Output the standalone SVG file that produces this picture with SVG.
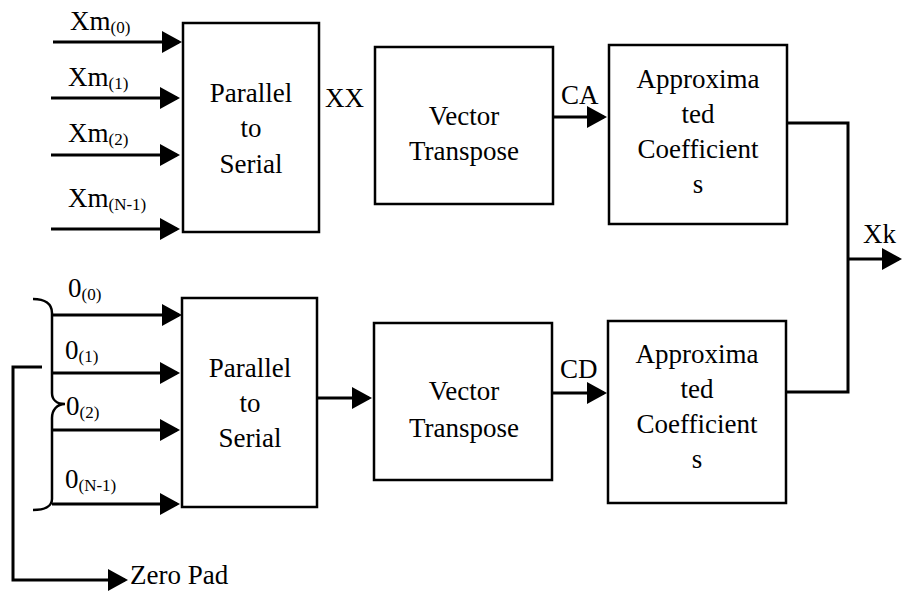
<svg xmlns="http://www.w3.org/2000/svg" width="902" height="591" viewBox="0 0 902 591">
<style>
text{font-family:'Liberation Serif',Tinos,'Times New Roman',Times,serif;font-size:27px;fill:#000}
.c{text-anchor:middle}
.s{font-size:17px}
.box{fill:#fff;stroke:#000;stroke-width:2.5}
.ln{fill:none;stroke:#000;stroke-width:3}
.br{fill:none;stroke:#000;stroke-width:2.5}
</style>
<defs>
<marker id="ah" viewBox="0 0 20 22" refX="17" refY="11" markerWidth="20" markerHeight="22" markerUnits="userSpaceOnUse" orient="auto">
<path d="M0,0 L20,11 L0,22 Z" fill="#000"/>
</marker>
</defs>
<rect width="902" height="591" fill="#fff"/>

<g id="connectors">
<path class="ln" d="M53,42 H179" marker-end="url(#ah)"/>
<path class="ln" d="M51,98 H177" marker-end="url(#ah)"/>
<path class="ln" d="M51,155 H177" marker-end="url(#ah)"/>
<path class="ln" d="M51,229 H177" marker-end="url(#ah)"/>
<path class="ln" d="M553,117 H604" marker-end="url(#ah)"/>
<path class="ln" d="M787,123 H848 V392 H786"/>
<path class="ln" d="M848,259 H899" marker-end="url(#ah)"/>
<path class="ln" d="M52,315 H179" marker-end="url(#ah)"/>
<path class="ln" d="M52,373 H177" marker-end="url(#ah)"/>
<path class="ln" d="M52,430 H177" marker-end="url(#ah)"/>
<path class="ln" d="M52,504 H177" marker-end="url(#ah)"/>
<path class="ln" d="M317,398 H369" marker-end="url(#ah)"/>
<path class="ln" d="M552,393 H604" marker-end="url(#ah)"/>
<path class="br" d="M33,299 C45,299 52,304 52,313 L52,393 C52,400 57,404 65,404 C57,404 52,410 52,418 L52,499 C52,506 45,510 33,510"/>
<path class="ln" d="M42,367 H13 V580 H125" marker-end="url(#ah)"/>
</g>

<g id="labels" font-family="Liberation Serif, serif">
<text x="70" y="30">Xm<tspan class="s" dy="3">(0)</tspan></text>
<text x="68" y="86">Xm<tspan class="s" dy="3">(1)</tspan></text>
<text x="68" y="142">Xm<tspan class="s" dy="3">(2)</tspan></text>
<text x="68" y="207">Xm<tspan class="s" dy="3">(N-1)</tspan></text>
<text x="325" y="107">XX</text>
<text x="561" y="104">CA</text>
<text x="863" y="243">Xk</text>
<text x="68" y="297">0<tspan class="s" dy="3">(0)</tspan></text>
<text x="65" y="359">0<tspan class="s" dy="3">(1)</tspan></text>
<text x="66" y="415">0<tspan class="s" dy="3">(2)</tspan></text>
<text x="65" y="488">0<tspan class="s" dy="3">(N-1)</tspan></text>
<text x="560" y="378">CD</text>
<text x="130" y="584">Zero Pad</text>
</g>

<g id="p2s-top">
<rect class="box" x="183" y="23" width="136" height="209"/>
<text class="c" x="251" y="102">Parallel</text>
<text class="c" x="251" y="137">to</text>
<text class="c" x="251" y="173">Serial</text>
</g>
<g id="vt-top">
<rect class="box" x="375" y="47" width="178" height="157"/>
<text class="c" x="464" y="125">Vector</text>
<text class="c" x="464" y="160">Transpose</text>
</g>
<g id="ac-top">
<rect class="box" x="609" y="45" width="178" height="179"/>
<text class="c" x="698" y="88">Approxima</text>
<text class="c" x="698" y="123">ted</text>
<text class="c" x="698" y="158">Coefficient</text>
<text class="c" x="698" y="193">s</text>
</g>
<g id="p2s-bottom">
<rect class="box" x="182" y="298" width="135" height="209"/>
<text class="c" x="250" y="377">Parallel</text>
<text class="c" x="250" y="412">to</text>
<text class="c" x="250" y="447">Serial</text>
</g>
<g id="vt-bottom">
<rect class="box" x="374" y="323" width="178" height="157"/>
<text class="c" x="464" y="400">Vector</text>
<text class="c" x="464" y="437">Transpose</text>
</g>
<g id="ac-bottom">
<rect class="box" x="608" y="321" width="178" height="182"/>
<text class="c" x="697" y="363">Approxima</text>
<text class="c" x="697" y="398">ted</text>
<text class="c" x="697" y="433">Coefficient</text>
<text class="c" x="697" y="468">s</text>
</g>
</svg>
